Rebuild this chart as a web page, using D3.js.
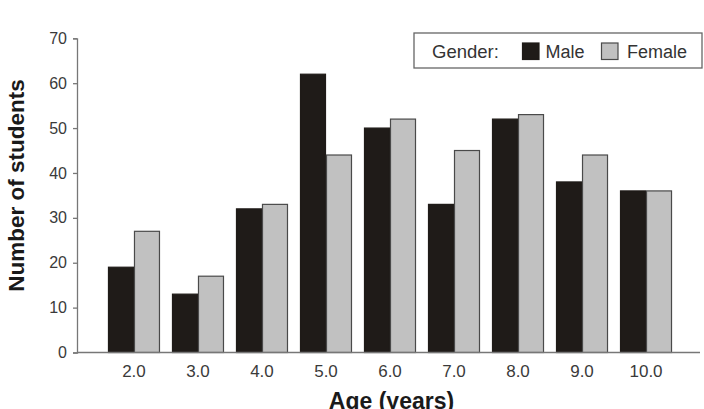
<!DOCTYPE html>
<html>
<head>
<meta charset="utf-8">
<script src="https://cdn.jsdelivr.net/npm/d3@7"></script>
<style>
  body { margin: 0; background: #fff; }
  svg { display: block; font-family: "Liberation Sans", Arial, sans-serif; }
</style>
</head>
<body>
<svg id="chart" width="704" height="409"></svg>
<script>
// data
var ages = ["2.0", "3.0", "4.0", "5.0", "6.0", "7.0", "8.0", "9.0", "10.0"];
var male = [19, 13, 32, 62, 50, 33, 52, 38, 36];
var female = [27, 17, 33, 44, 52, 45, 53, 44, 36];
var yTicks = [0, 10, 20, 30, 40, 50, 60, 70];
var seriesNames = ["Male", "Female"];

var svg = d3.select("#chart");

var x0 = 77, x1 = 703, yTop = 38.3, yBottom = 352.5;

var x = d3.scaleBand().domain(ages).range([x0, x1])
	.paddingInner(0.1875).paddingOuter(0.484);
var xs = d3.scaleBand().domain(seriesNames).range([0, x.bandwidth()]);
var y = d3.scaleLinear().domain([0, 70]).range([yBottom, yTop]);

var fills = { Male: "#1f1b18", Female: "#c1c1c1" };
var strokes = { Male: "#1f1b18", Female: "#4a4a4a" };

// bars
var rows = ages.map(function(a, i) { return { age: a, Male: male[i], Female: female[i] }; });
var groups = svg.append("g").selectAll("g").data(rows).join("g")
	.attr("transform", function(d) { return "translate(" + x(d.age) + ",0)"; });

groups.selectAll("rect")
	.data(function(d) { return seriesNames.map(function(k) { return { key: k, value: d[k] }; }); })
	.join("rect")
	.attr("x", function(d) { return xs(d.key) + 0.5; })
	.attr("width", xs.bandwidth() - 1)
	.attr("y", function(d) { return y(d.value); })
	.attr("height", function(d) { return yBottom - y(d.value); })
	.attr("fill", function(d) { return fills[d.key]; })
	.attr("stroke", function(d) { return strokes[d.key]; })
	.attr("stroke-width", 1.2);

// y axis
var yAxis = svg.append("g")
	.attr("transform", "translate(" + x0 + ",0)")
	.call(d3.axisLeft(y).tickValues(yTicks).tickSize(4).tickPadding(6));
yAxis.select(".domain").attr("stroke", "#777").attr("stroke-width", 1.3);
yAxis.selectAll(".tick line").attr("stroke", "#777").attr("stroke-width", 1.3);
yAxis.selectAll(".tick text").attr("font-size", 16).attr("fill", "#3a3a3a")
	.attr("font-family", "Liberation Sans, Arial, sans-serif");

// x axis line and labels
svg.append("line")
	.attr("x1", x0).attr("x2", 700).attr("y1", yBottom).attr("y2", yBottom)
	.attr("stroke", "#777").attr("stroke-width", 1.3);

svg.append("g").selectAll("text").data(ages).join("text")
	.attr("x", function(d) { return x(d) + x.bandwidth() / 2; })
	.attr("y", 377)
	.attr("text-anchor", "middle")
	.attr("font-size", 17).attr("fill", "#3a3a3a")
	.text(function(d) { return d; });

// axis titles
svg.append("text")
	.attr("x", 391.5)
	.attr("y", 409)
	.attr("text-anchor", "middle")
	.attr("font-size", 23).attr("font-weight", "bold").attr("fill", "#1a1a1a")
	.text("Age (years)");

svg.append("text")
	.attr("transform", "translate(23.5,185.5) rotate(-90)")
	.attr("text-anchor", "middle")
	.attr("font-size", 22.5).attr("font-weight", "bold").attr("fill", "#1a1a1a")
	.text("Number of students");

// legend
var lg = svg.append("g");
lg.append("rect").attr("x", 414).attr("y", 33).attr("width", 288).attr("height", 35)
	.attr("fill", "#fff").attr("stroke", "#666").attr("stroke-width", 1.3);
lg.append("text").attr("x", 432).attr("y", 57.5).attr("font-size", 18.5).attr("fill", "#333").text("Gender:");
var legendItems = [{ key: "Male", sx: 522.5, tx: 545.5 }, { key: "Female", sx: 601.5, tx: 627 }];
legendItems.forEach(function(it) {
	lg.append("rect").attr("x", it.sx).attr("y", 43).attr("width", 16.5).attr("height", 16.5)
		.attr("fill", fills[it.key]).attr("stroke", strokes[it.key]).attr("stroke-width", 1.2);
	lg.append("text").attr("x", it.tx).attr("y", 57.5).attr("font-size", 18).attr("fill", "#333").text(it.key);
});
</script>
</body>
</html>
